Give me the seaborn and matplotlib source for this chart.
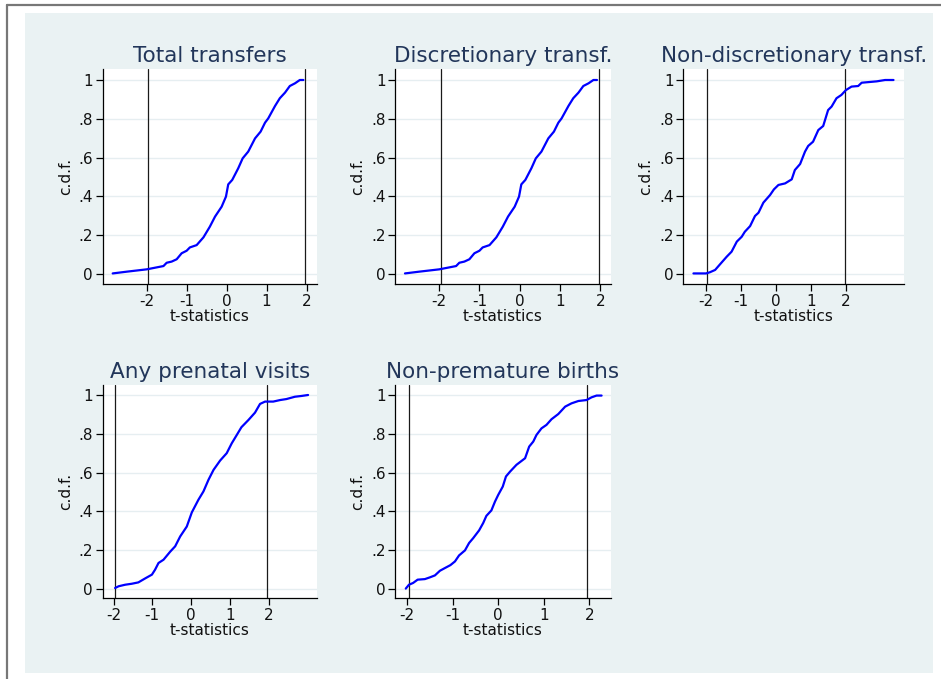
import matplotlib
matplotlib.use("Agg")
import matplotlib.pyplot as plt
from matplotlib.lines import Line2D
from matplotlib.patches import Rectangle
import seaborn as sns
import pandas as pd

# ---------------- data ----------------
titles = ["Total transfers", "Discretionary transf.", "Non-discretionary transf.",
          "Any prenatal visits", "Non-premature births"]

total_x = [-2.85, -2.5, -2.0, -1.58, -1.5, -1.375, -1.25, -1.125, -1.0, -0.92, -0.75,
           -0.58, -0.42, -0.29, -0.125, -0.017, 0.04, 0.14, 0.29, 0.40, 0.54, 0.71,
           0.85, 0.96, 1.04, 1.21, 1.33, 1.46, 1.58, 1.71, 1.83, 1.92]
total_y = [0.003, 0.012, 0.024, 0.041, 0.058, 0.064, 0.076, 0.107, 0.120, 0.137, 0.149,
           0.189, 0.244, 0.296, 0.347, 0.399, 0.462, 0.485, 0.545, 0.596, 0.631, 0.699,
           0.734, 0.780, 0.802, 0.866, 0.906, 0.935, 0.969, 0.983, 1.000, 1.000]

discr_x = [-2.85, -2.5, -2.0, -1.58, -1.5, -1.375, -1.25, -1.125, -1.0, -0.92, -0.75,
           -0.58, -0.42, -0.29, -0.125, -0.017, 0.04, 0.14, 0.29, 0.40, 0.54, 0.71,
           0.85, 0.96, 1.04, 1.21, 1.33, 1.46, 1.58, 1.71, 1.83, 1.92]
discr_y = [0.003, 0.012, 0.024, 0.041, 0.058, 0.064, 0.076, 0.107, 0.120, 0.137, 0.149,
           0.189, 0.244, 0.296, 0.347, 0.399, 0.462, 0.485, 0.545, 0.596, 0.631, 0.699,
           0.734, 0.780, 0.802, 0.866, 0.906, 0.935, 0.969, 0.983, 1.000, 1.000]

nondiscr_x = [-2.36, -2.0, -1.89, -1.74, -1.60, -1.41, -1.27, -1.12, -0.98, -0.89, -0.74,
              -0.60, -0.50, -0.36, -0.17, -0.06, 0.07, 0.26, 0.45, 0.54, 0.69, 0.83,
              0.92, 1.06, 1.21, 1.35, 1.49, 1.59, 1.73, 1.87, 2.00, 2.16, 2.35, 2.45,
              2.88, 3.12, 3.36]
nondiscr_y = [0.003, 0.003, 0.009, 0.021, 0.050, 0.089, 0.115, 0.167, 0.192, 0.218, 0.247,
              0.299, 0.316, 0.368, 0.407, 0.436, 0.459, 0.467, 0.488, 0.536, 0.567, 0.631,
              0.660, 0.682, 0.742, 0.763, 0.845, 0.863, 0.906, 0.923, 0.948, 0.966, 0.969,
              0.986, 0.993, 1.000, 1.000]

prenatal_x = [-1.96, -1.87, -1.70, -1.53, -1.36, -1.18, -1.01, -0.93, -0.84, -0.71, -0.54,
              -0.41, -0.28, -0.11, 0.02, 0.19, 0.32, 0.45, 0.58, 0.75, 0.92, 1.05, 1.18,
              1.30, 1.48, 1.65, 1.78, 1.91, 2.12, 2.30, 2.46, 2.68, 2.85, 3.02]
prenatal_y = [0.005, 0.014, 0.022, 0.027, 0.034, 0.055, 0.074, 0.099, 0.134, 0.151, 0.192,
              0.220, 0.271, 0.322, 0.395, 0.460, 0.503, 0.563, 0.614, 0.662, 0.700, 0.751,
              0.794, 0.834, 0.871, 0.909, 0.954, 0.966, 0.966, 0.974, 0.979, 0.991, 0.995,
              1.000]

premature_x = [-2.03, -1.96, -1.87, -1.77, -1.61, -1.50, -1.39, -1.28, -1.17, -1.05, -0.95,
               -0.86, -0.73, -0.64, -0.55, -0.42, -0.33, -0.26, -0.15, -0.07, 0.00, 0.10,
               0.17, 0.26, 0.40, 0.59, 0.68, 0.77, 0.84, 0.95, 1.06, 1.17, 1.32, 1.47,
               1.61, 1.76, 1.94, 2.05, 2.16, 2.27]
premature_y = [0.002, 0.022, 0.031, 0.048, 0.051, 0.060, 0.070, 0.094, 0.108, 0.123, 0.142,
               0.173, 0.199, 0.237, 0.262, 0.302, 0.340, 0.377, 0.405, 0.451, 0.485, 0.528,
               0.580, 0.605, 0.640, 0.674, 0.734, 0.760, 0.794, 0.828, 0.846, 0.875, 0.902,
               0.940, 0.957, 0.969, 0.974, 0.988, 0.997, 0.997]

xticks = [-2, -1, 0, 1, 2]
xtick_labels = ["-2", "-1", "0", "1", "2"]
yticks = [0, 0.2, 0.4, 0.6, 0.8, 1.0]
ytick_labels = ["0", ".2", ".4", ".6", ".8", "1"]
crit_values = [-1.96, 1.96]

series = [(total_x, total_y), (discr_x, discr_y), (nondiscr_x, nondiscr_y),
          (prenatal_x, prenatal_y), (premature_x, premature_y)]

# ---------------- layout ----------------
W, H = 941, 679
sns.set_style("white")
plt.rcParams["font.family"] = ["DejaVu Sans"]

fig = plt.figure(figsize=(W / 100, H / 100), dpi=100)
fig.patch.set_facecolor("white")

BG = "#EAF2F3"
# graph region background
fig.patches.append(Rectangle((25 / W, 1 - 673 / H), (933 - 25) / W, (673 - 13) / H,
                             transform=fig.transFigure, facecolor=BG, edgecolor="none",
                             zorder=-10))
# outer frame lines (top and left)
fig.lines.append(Line2D([6.5 / W, 1], [1 - 4.5 / H, 1 - 4.5 / H], transform=fig.transFigure,
                        color="#777777", lw=1.6))
fig.lines.append(Line2D([6.5 / W, 6.5 / W], [0, 1 - 4.5 / H], transform=fig.transFigure,
                        color="#777777", lw=1.6))

# axes pixel boxes: (left, right, top, bottom)
boxes = [(102.7, 317, 69, 284), (395.3, 610.7, 69, 284), (683.3, 904, 69, 284),
         (102.7, 317, 385, 598.3), (395.3, 610.7, 385, 598.3)]
xlims = [(-3.1, 2.26), (-3.09, 2.26), (-2.65, 3.66), (-2.28, 3.25), (-2.26, 2.47)]
ylims = [(-0.0515, 1.0567)] * 3 + [(-0.048, 1.0515)] * 2

for i, (title, (xs, ys)) in enumerate(zip(titles, series)):
    l, r, t, b = boxes[i]
    ax = fig.add_axes([l / W, 1 - b / H, (r - l) / W, (b - t) / H])
    ax.set_facecolor("white")
    for yv in yticks:
        ax.axhline(yv, color="#E6EEF1", lw=1.0, zorder=0)
    for cv in crit_values:
        ax.axvline(cv, color="#1a1a1a", lw=0.9, zorder=1)
    df = pd.DataFrame({"t": xs, "cdf": ys})
    sns.lineplot(data=df, x="t", y="cdf", ax=ax, color="#0000FF", lw=1.6,
                 sort=False, estimator=None, zorder=3)
    ax.set_xlim(*xlims[i])
    ax.set_ylim(*ylims[i])
    ax.set_xticks(xticks)
    ax.set_xticklabels(xtick_labels)
    ax.set_yticks(yticks)
    ax.set_yticklabels(ytick_labels)
    ax.tick_params(axis="both", direction="out", length=5, width=0.9, color="black",
                   labelsize=11, labelcolor="#111111", pad=2, left=True, bottom=True)
    ax.set_xlabel("t-statistics", fontsize=11, labelpad=0, color="#111111")
    ax.set_ylabel("c.d.f.", fontsize=11, labelpad=4, color="#111111")
    for s in ["top", "right"]:
        ax.spines[s].set_visible(False)
    for s in ["left", "bottom"]:
        ax.spines[s].set_color("black")
        ax.spines[s].set_linewidth(0.9)
    ax.set_title(title, fontsize=15.5, color="#22365A", pad=5)

fig.savefig("out.png", dpi=100, facecolor="white")
